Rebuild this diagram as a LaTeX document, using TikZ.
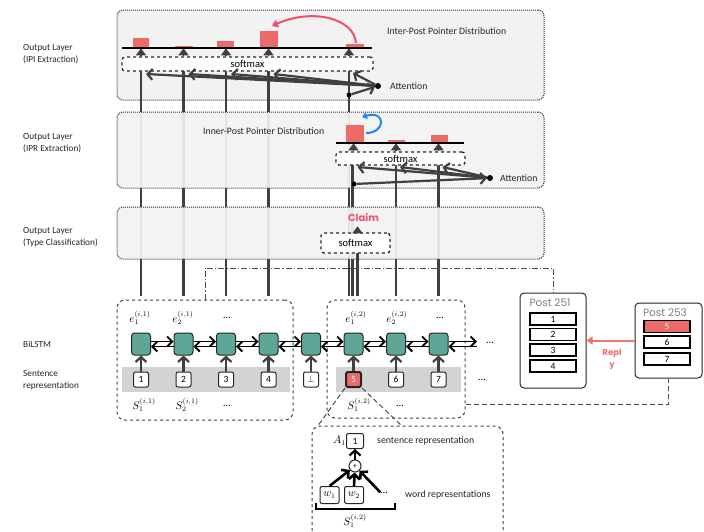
\documentclass[tikz,border=0pt]{standalone}
\usepackage{fontspec}
\setmainfont{Carlito}
\newfontfamily\popp{Poppins}
\usetikzlibrary{arrows.meta,calc}
\definecolor{barred}{HTML}{EC6B69}
\definecolor{lstm}{HTML}{5EA696}
\definecolor{dk}{HTML}{404040}
\definecolor{claimpink}{HTML}{F0506E}
\definecolor{replyred}{HTML}{EF7373}
\definecolor{bluearr}{HTML}{1E88F0}
\definecolor{panelbg}{HTML}{F2F2F2}
\definecolor{stripgray}{HTML}{D3D3D3}
\begin{document}
\begin{tikzpicture}[x=1pt,y=-1pt,
  vline/.style={draw=dk, line width=2.2pt},
  panel/.style={draw=black!80, densely dotted, line width=1pt, rounded corners=6pt, fill=panelbg},
  smbox/.style={draw=black!85, dashed, line width=1.3pt, rounded corners=3pt, fill=white, font=\fontsize{10.5}{12}\selectfont, inner sep=0pt},
  tri/.style={draw=dk, line width=1.5pt, -{Triangle[length=7pt,width=10pt]}},
  attarr/.style={draw=dk, line width=2.2pt, -{Straight Barb[length=5pt,width=11pt]}},
  adot/.style={circle, fill=black, minimum size=6pt, inner sep=0pt},
  lstmbox/.style={draw=black!85, line width=1pt, fill=lstm, rounded corners=3pt, minimum width=19pt, minimum height=22pt, inner sep=0pt},
  sbox/.style={draw=black!85, line width=1pt, fill=white, rounded corners=2pt, minimum width=15pt, minimum height=15pt, inner sep=0pt, font=\fontsize{9.5}{10}\selectfont},
  uparr/.style={draw=dk, line width=2.2pt, -{Straight Barb[length=5pt,width=11pt]}},
  biarr/.style={draw=black, line width=1.8pt, -{Straight Barb[length=5pt,width=10pt]}},
  grp/.style={draw=black!75, dashed, line width=1pt, rounded corners=8pt},
  lbl/.style={font=\fontsize{9.3}{12}\selectfont, text=black!85, align=left, anchor=west, inner sep=0pt},
  txt/.style={font=\fontsize{9.8}{11}\selectfont, text=black!85, anchor=west, inner sep=0pt},
  mlbl/.style={font=\fontsize{10.5}{11}\selectfont, inner sep=0pt},
  post/.style={draw=black!85, line width=1pt, rounded corners=4pt, fill=white},
  prow/.style={draw=black, line width=1.8pt, fill=white, minimum width=46pt, minimum height=12pt, inner sep=0pt, font=\fontsize{9.5}{10}\selectfont},
  dline/.style={draw=black!70, line width=1pt, dash pattern=on 5pt off 3pt},
  ddline/.style={draw=black!70, line width=1pt, dash pattern=on 6pt off 2pt on 1.2pt off 2pt},
  ptitle/.style={font=\popp\fontsize{10.5}{11}\selectfont, text=black!50, inner sep=0pt}
]
\useasboundingbox (0,0) rectangle (704,531);
\fill[white] (0,0) rectangle (704,531);

% ---------- left labels
\node[lbl] (L1) at (23,54) {Output Layer\\(IPI Extraction)};
\node[lbl] (L2) at (23,143) {Output Layer\\(IPR Extraction)};
\node[lbl] (L3) at (23,237) {Output Layer\\(Type Classification)};
\node[lbl] (L4) at (23,344) {BiLSTM};
\node[lbl] (L5) at (23,380) {Sentence\\representation};

% ---------- panel 1 (opaque)
\node[panel, minimum width=427pt, minimum height=90pt] (P1) at (330.5,55) {};
\node[txt] (T1) at (387,31) {Inter-Post Pointer Distribution};

% ---------- strips and group boxes
\fill[stripgray] (122,367) rectangle (290,392);
\fill[stripgray] (336,367) rectangle (461,392);
\node[grp, minimum width=176pt, minimum height=120pt] (g1) at (205,360) {};
\node[grp, minimum width=138pt, minimum height=118pt] (g2) at (396,359) {};

% ---------- BiLSTM + sentence nodes
\foreach \i/\x/\t in {1/141/1,2/183.5/2,3/226/3,4/268.5/4,5/311/{$\bot$},7/396/6,8/438.5/7} {
  \node[lstmbox] (h\i) at (\x,344) {};
  \node[sbox] (s\i) at (\x,379.5) {\t};
}
\node[lstmbox] (h6) at (353.5,344) {};
\node[sbox, fill=barred, text=white, line width=2pt] (s6) at (353.5,379.5) {5};
\foreach \i in {1,...,8} \draw[uparr] (s\i.north) -- (h\i.south);
\foreach \i/\j in {1/2,2/3,3/4,4/5,5/6,6/7,7/8} {
  \draw[biarr] ([yshift=2.5pt]h\i.east) -- ([yshift=2.5pt]h\j.west);
  \draw[biarr] ([yshift=-2.5pt]h\j.west) -- ([yshift=-2.5pt]h\i.east);
}
\coordinate (hend) at (477,344);
\draw[biarr] ([yshift=2.5pt]h8.east) -- ([yshift=2.5pt]hend);
\draw[biarr] ([yshift=-2.5pt]hend) -- ([yshift=-2.5pt]h8.east);
\node[mlbl] (dotsA) at (490,343) {\ldots};
\node[mlbl] (dotsB) at (482,380) {\ldots};

% labels e and S
\node[mlbl] (e11) at (140,318) {$e_1^{(i,1)}$};
\node[mlbl] (e21) at (183,318) {$e_2^{(i,1)}$};
\node[mlbl] (e31) at (227,318) {\ldots};
\node[mlbl] (e12) at (356,318) {$e_1^{(i,2)}$};
\node[mlbl] (e22) at (397,318) {$e_2^{(i,2)}$};
\node[mlbl] (e32) at (440,318) {\ldots};
\node[mlbl] (S11) at (144,405) {$S_1^{(i,1)}$};
\node[mlbl] (S21) at (187,405) {$S_2^{(i,1)}$};
\node[mlbl] (S31) at (227,406) {\ldots};
\node[mlbl] (S12) at (359,405) {$S_1^{(i,2)}$};
\node[mlbl] (S22) at (400,406) {\ldots};

% ---------- vertical lines
\coordinate (ltop) at (0,296);
\coordinate (sm1b) at (0,71);
\coordinate (sm2b) at (0,165);
\coordinate (sm3b) at (0,253);
\coordinate (c5a) at ($(h6.north|-ltop)+(-4.5,0)$);
\coordinate (c5b) at ($(h6.north|-ltop)+(-1,0)$);
\coordinate (c5c) at ($(h6.north|-ltop)+(4,0)$);
\foreach \i in {1,2,3,4} \draw[vline] (h\i.north|-ltop) -- (h\i.north|-sm1b);
\draw[vline] (c5a) -- (c5a|-sm1b);
\draw[vline] (c5b) -- (c5b|-sm2b);
\draw[vline] (c5c) -- (c5c|-sm3b);
\foreach \i in {7,8} \draw[vline] (h\i.north|-ltop) -- (h\i.north|-sm2b);

% ---------- panels 2 and 3 (semi-transparent)
\node[panel, fill opacity=0.92, minimum width=427pt, minimum height=76pt] (P2) at (330.5,150) {};
\node[panel, fill opacity=0.92, minimum width=427pt, minimum height=52pt] (P3) at (330.5,233) {};
\draw[vline] (c5b|-P2.south) -- (c5b|-sm2b);
\foreach \i in {7,8} \draw[vline] (h\i.north|-P2.south) -- (h\i.north|-sm2b);
\draw[vline] (c5c|-P3.south) -- (c5c|-sm3b);

% ---------- panel 1 content
\node[smbox, minimum width=251pt, minimum height=14pt] (sm1) at (247.5,64) {softmax};
\fill[barred] (133,38) rectangle (149,48);
\fill[barred] (175,46) rectangle (193,48);
\fill[barred] (217,41) rectangle (234,48);
\fill[barred] (260,31) rectangle (278,48);
\fill[barred] (346,44) rectangle (364,48);
\draw[black, line width=2.2pt] (122,48) -- (372,48);
\foreach \i in {1,2,3,4} \draw[tri] (h\i.north|-sm1.north) -- ++(0,-8);
\draw[tri] (c5a|-sm1.north) -- ++(0,-8);
\draw[claimpink, line width=2pt, -{Triangle[length=6pt,width=8pt]}] (356,43) .. controls (354,18) and (312,8) .. (272,26);
\node[adot] (att1) at (378,86) {};
\node[txt] (TA1) at (390,86) {Attention};
\node[adot, minimum size=5pt] (d1) at (c5a|-0,95) {};
\foreach \i in {1,2,3,4} \draw[attarr] (att1) -- ($(h\i.north|-sm1b)+(5,3)$);
\draw[attarr] (att1) -- ($(c5a|-sm1b)+(4,2)$);
\draw[attarr] (d1) -- (att1);

% ---------- panel 2 content
\node[txt] (T2) at (203,131) {Inner-Post Pointer Distribution};
\node[smbox, minimum width=129pt, minimum height=13pt] (sm2) at (400.5,158.5) {softmax};
\fill[barred] (346,125) rectangle (364,143);
\fill[barred] (388,140) rectangle (405,143);
\fill[barred] (431,135) rectangle (448,143);
\draw[black, line width=2.2pt] (336,143) -- (464,143);
\draw[tri] (h6.north|-sm2.north) -- ++(0,-8);
\foreach \i in {7,8} \draw[tri] (h\i.north|-sm2.north) -- ++(0,-8);
\draw[bluearr, line width=2pt, -{Triangle[length=5pt,width=7pt]}] (366,133) .. controls (386,133) and (386,110) .. (362,117);
\node[adot] (att2) at (490,178) {};
\node[txt] (TA2) at (500,178) {Attention};
\node[adot, minimum size=5pt] (d2) at (354,184) {};
\draw[attarr] (att2) -- ($(h6.north|-sm2b)+(4,2)$);
\foreach \i in {7,8} \draw[attarr] (att2) -- ($(h\i.north|-sm2b)+(4,2)$);
\draw[attarr] (d2) -- (att2);

% ---------- panel 3 content
\node[smbox, minimum width=69pt, minimum height=20pt] (sm3) at (355.5,243) {softmax};
\draw[tri] (c5c|-sm3.north) -- ++(0,-6);
\node[font=\popp\bfseries\fontsize{10}{11}\selectfont, text=claimpink, inner sep=0pt] (claim) at (363.5,218) {Claim};

% ---------- posts
\node[post, minimum width=66pt, minimum height=95pt] (p251) at (553,340.5) {};
\node[ptitle] (pt1) at (550,302.5) {Post 251};
\node[prow] (r1) at (553,319) {1};
\node[prow] (r2) at (553,334.5) {2};
\node[prow] (r3) at (553,350) {3};
\node[prow] (r4) at (553,366) {4};
\node[post, minimum width=67pt, minimum height=75pt] (p253) at (668.5,340.5) {};
\node[ptitle] (pt2) at (665,312.5) {Post 253};
\node[prow, fill=barred, text=white] (r5) at (667,326.5) {5};
\node[prow] (r6) at (667,342) {6};
\node[prow] (r7) at (667,359) {7};
\draw[replyred, line width=2pt, -{Triangle[length=6pt,width=8pt]}] (p253.west) -- (p251.east);
\node[font=\popp\bfseries\fontsize{8.5}{12.5}\selectfont, text=replyred, align=center, inner sep=0pt] (reply) at (612,359.5) {Repl\\y};

% ---------- connectors between groups and posts
\coordinate (dd1) at (205,268);
\draw[ddline] (g1.north-|dd1) -- (dd1) -- (dd1-|p251.north) -- (p251.north);
\coordinate (db1) at (0,404);
\draw[dline] (g2.east|-db1) -- (p253.south|-db1) -- (p253.south);

% ---------- zoom-in panel
\coordinate (zl) at (317,427);
\coordinate (zr) at (402,426);
\draw[dline] (s6.south west) -- (zl);
\draw[dline] (s6.south east) -- (zr);
\draw[grp] (312,531) -- (312,426) -- (503,426) -- (503,531);
\node[sbox, minimum width=17pt] (a1) at (355,441) {1};
\node[mlbl, anchor=east] (A1) at (a1.west) {$A_1$};
\node[txt] (sr) at (377,441) {sentence representation};
\node[circle, draw=black!85, line width=1pt, fill=white, minimum size=12pt, inner sep=0pt, font=\fontsize{7.5}{8}\selectfont] (plus) at (355,466) {+};
\draw[uparr, draw=black] (plus) -- (a1);
\node[sbox, minimum width=19pt, minimum height=17pt, font=\fontsize{10.5}{11}\selectfont] (w1) at (329.5,495) {$w_1$};
\node[sbox, minimum width=19pt, minimum height=17pt, font=\fontsize{10.5}{11}\selectfont] (w2) at (354,495) {$w_2$};
\node[mlbl] (wd) at (384,493) {\ldots};
\node[txt] (wr) at (405,495) {word representations};
\draw[uparr, draw=black, line width=2.6pt] (w1.north) -- (plus);
\draw[uparr, draw=black, line width=2.6pt] (w2.north) -- (plus);
\draw[uparr, draw=black, line width=2.6pt] (wd.north west) -- (plus);
\draw[black, line width=2pt] (316,503) -- (316,509) -- (395,509) -- (395,503);
\node[mlbl] (S12b) at (355,521) {$S_1^{(i,2)}$};
\end{tikzpicture}
\end{document}
